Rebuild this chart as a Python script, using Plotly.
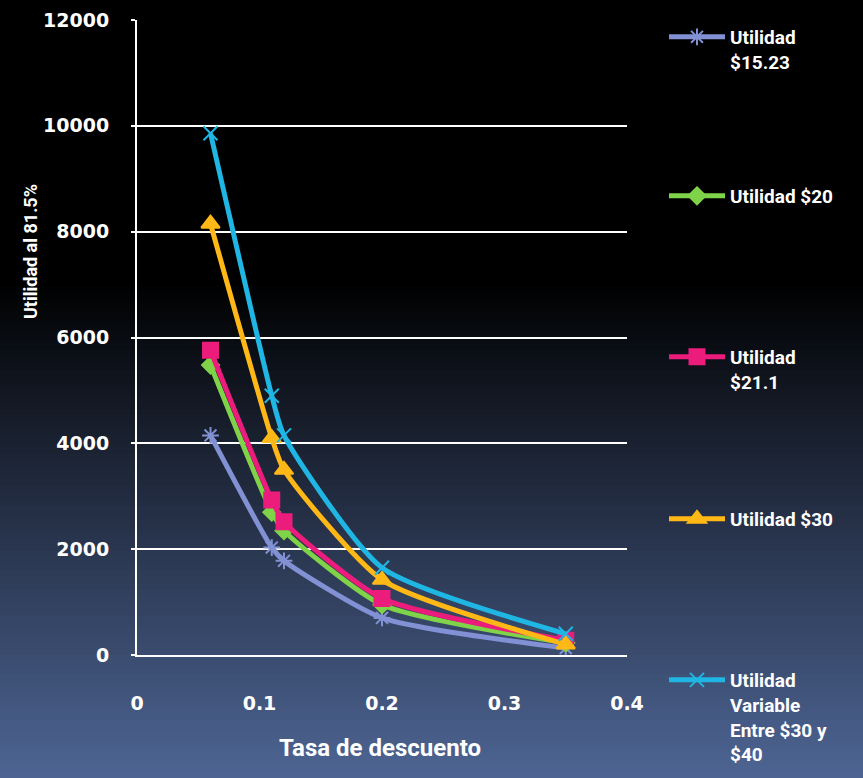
import plotly.graph_objects as go

# Discount rates (x) and present-value of profit for each scenario
tasas = [0.06, 0.11, 0.12, 0.2, 0.35]
utilidad_1523 = [4150, 2030, 1780, 700, 130]
utilidad_20 = [5480, 2700, 2350, 950, 230]
utilidad_211 = [5760, 2930, 2520, 1070, 280]
utilidad_30 = [8150, 4100, 3500, 1420, 200]
utilidad_variable = [9860, 4900, 4150, 1650, 400]

y_ticks = [0, 2000, 4000, 6000, 8000, 10000, 12000]
x_ticks = [0, 0.1, 0.2, 0.3, 0.4]

series = [
    ("Utilidad<br>$15.23", utilidad_1523, "#8191d3", "asterisk-open", 14),
    ("Utilidad $20", utilidad_20, "#7ed348", "diamond", 13),
    ("Utilidad<br>$21.1", utilidad_211, "#ec1c7c", "square", 15),
    ("Utilidad $30", utilidad_30, "#ffb816", "triangle-up", 16),
    ("Utilidad<br>Variable<br>Entre $30 y<br>$40", utilidad_variable, "#1fb6e3", "x-thin-open", 14),
]

W, H = 863, 778
ML, MR, MT, MB = 137, 236, 20, 123
PW, PH = W - ML - MR, H - MT - MB

# top-left pixel of each legend block
legend_px = [(664, 18), (664, 177), (664, 338), (664, 500), (664, 661)]

fig = go.Figure()
for i, (name, vals, color, sym, size) in enumerate(series):
    lname = "legend" if i == 0 else f"legend{i + 1}"
    fig.add_trace(go.Scatter(
        x=tasas, y=vals, name=name, mode="lines+markers",
        line=dict(color=color, width=5, shape="spline", smoothing=0.6),
        marker=dict(symbol=sym, size=size, color=color,
                    line=dict(color=color, width=2)),
        legend=lname,
    ))

# vertical background gradient: black at top, slate blue at bottom
shapes = []
n = 120
top_c = (0, 0, 0)
bot_c = (78, 101, 148)
start = 0.36
for k in range(n):
    f = (k + 0.5) / n
    t = max(0.0, (f - start) / (1 - start))
    c = tuple(int(round(a + (b - a) * t)) for a, b in zip(top_c, bot_c))
    y0 = 1 + MT / PH - (k / n) * (H / PH)
    y1 = 1 + MT / PH - ((k + 1) / n) * (H / PH)
    shapes.append(dict(
        type="rect", xref="paper", yref="paper", layer="below",
        x0=-ML / PW, x1=1 + MR / PW, y0=y1 - 0.002, y1=y0,
        fillcolor=f"rgb{c}", line=dict(width=0),
    ))

font_ticks = dict(family="DejaVu Sans", size=19, color="white", weight="bold")
legend_font = dict(family="Roboto", size=19, color="white", weight="bold")

layout_legends = {}
for i, (px, py) in enumerate(legend_px):
    key = "legend" if i == 0 else f"legend{i + 1}"
    layout_legends[key] = dict(
        xref="container", yref="container",
        x=px / W, y=1 - py / H,
        xanchor="left", yanchor="top",
        bgcolor="rgba(0,0,0,0)", font=legend_font,
        valign="top", itemwidth=56,
    )

annotations = [
    dict(text="Tasa de descuento", xref="paper", yref="paper",
         x=(380 - ML) / PW, y=(H - MB - 748) / PH,
         xanchor="center", yanchor="middle", showarrow=False,
         font=dict(family="Roboto", size=24, color="white", weight="bold")),
    dict(text="Utilidad al 81.5%", xref="paper", yref="paper",
         x=(30 - ML) / PW, y=(H - MB - 252) / PH, textangle=-90,
         xanchor="center", yanchor="middle", showarrow=False,
         font=dict(family="Roboto", size=18, color="white", weight="bold")),
]

fig.update_layout(
    width=W, height=H, autosize=False,
    margin=dict(l=ML, r=MR, t=MT, b=MB, autoexpand=False),
    paper_bgcolor="rgba(0,0,0,0)",
    plot_bgcolor="rgba(0,0,0,0)",
    shapes=shapes,
    annotations=annotations,
    showlegend=True,
    xaxis=dict(
        range=[0, 0.4], tickvals=x_ticks,
        ticktext=[f"{v:g}" for v in x_ticks],
        showgrid=False, zeroline=False,
        showline=True, linecolor="white", linewidth=2,
        ticks="", tickfont=font_ticks, ticklabelstandoff=30,
    ),
    yaxis=dict(
        range=[0, 12000], tickvals=y_ticks,
        ticktext=[str(v) for v in y_ticks],
        showgrid=True, gridcolor="white", gridwidth=2, zeroline=False,
        showline=True, linecolor="white", linewidth=2,
        ticks="outside", ticklen=4, tickcolor="white", tickwidth=2,
        tickfont=font_ticks, ticklabelstandoff=18,
    ),
    **layout_legends,
)

fig.write_html("out.html")
